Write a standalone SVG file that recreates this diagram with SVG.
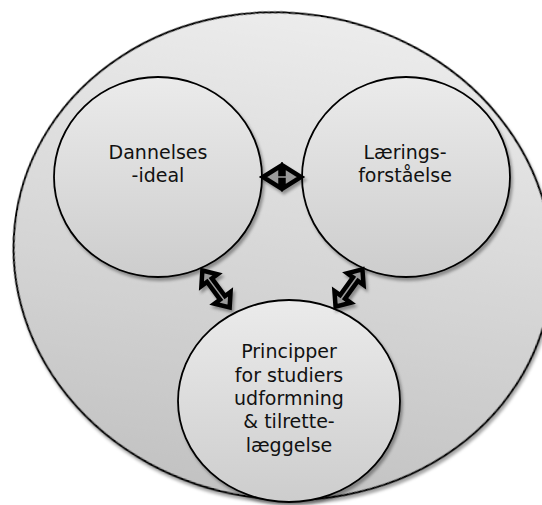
<svg xmlns="http://www.w3.org/2000/svg" width="542" height="505" viewBox="0 0 542 505">
  <defs>
    <linearGradient id="gOuter" x1="0" y1="0" x2="0" y2="1">
      <stop offset="0" stop-color="#ececec"/>
      <stop offset="1" stop-color="#c2c2c2"/>
    </linearGradient>
    <linearGradient id="gNode" x1="0" y1="0" x2="0" y2="1">
      <stop offset="0" stop-color="#ebebeb"/>
      <stop offset="1" stop-color="#cdcdcd"/>
    </linearGradient>
    <filter id="shadow" x="-10%" y="-10%" width="125%" height="125%">
      <feDropShadow dx="2" dy="3" stdDeviation="1.5" flood-color="#000" flood-opacity="0.35"/>
    </filter>
    <!-- double-headed block arrow, centred on the origin, pointing along x -->
    <polygon id="dblArrow" points="-23,0 -11,-10 -11,-3 11,-3 11,-10 23,0 11,10 11,3 -11,3 -11,10"/>
    <polygon id="dblArrowShort" points="-19,0 -1.5,-11 -1.5,-3 1.5,-3 1.5,-11 19,0 1.5,11 1.5,3 -1.5,3 -1.5,11"/>
  </defs>
  <style>
    .outer { fill: url(#gOuter); stroke: #000; stroke-width: 2; }
    .node { fill: url(#gNode); stroke: #000; stroke-width: 1.8; }
    .arrow { fill: #9a9a9a; stroke: #000; stroke-width: 4.5; stroke-linejoin: miter; }
    .label { font-family: "DejaVu Sans", Verdana, sans-serif; font-size: 19px; fill: #111; text-anchor: middle; }
  </style>

  <!-- enclosing ellipse -->
  <g id="context">
    <ellipse class="outer" cx="283" cy="256" rx="270" ry="243" transform="rotate(9 283 256)" filter="url(#shadow)"/>
  </g>

  <g id="dannelsesideal">
    <ellipse class="node" cx="158" cy="177" rx="104" ry="100" filter="url(#shadow)"/>
    <text class="label" x="158" y="159">Dannelses</text>
    <text class="label" x="158" y="182">-ideal</text>
  </g>

  <g id="laeringsforstaaelse">
    <ellipse class="node" cx="406" cy="177" rx="104" ry="100" filter="url(#shadow)"/>
    <text class="label" x="405" y="159">Lærings-</text>
    <text class="label" x="405" y="182">forståelse</text>
  </g>

  <g id="principper">
    <ellipse class="node" cx="289" cy="401" rx="111" ry="101" filter="url(#shadow)"/>
    <text class="label" x="289" y="358">Principper</text>
    <text class="label" x="289" y="382">for studiers</text>
    <text class="label" x="289" y="405">udformning</text>
    <text class="label" x="289" y="428">&amp; tilrette-</text>
    <text class="label" x="289" y="452">læggelse</text>
  </g>

  <g id="connectors" filter="url(#shadow)">
    <use href="#dblArrowShort" class="arrow" transform="translate(282 177)"/>
    <use href="#dblArrow" class="arrow" transform="translate(216 289) rotate(53.6)"/>
    <use href="#dblArrow" class="arrow" transform="translate(349 288) rotate(-54.3)"/>
  </g>
</svg>
